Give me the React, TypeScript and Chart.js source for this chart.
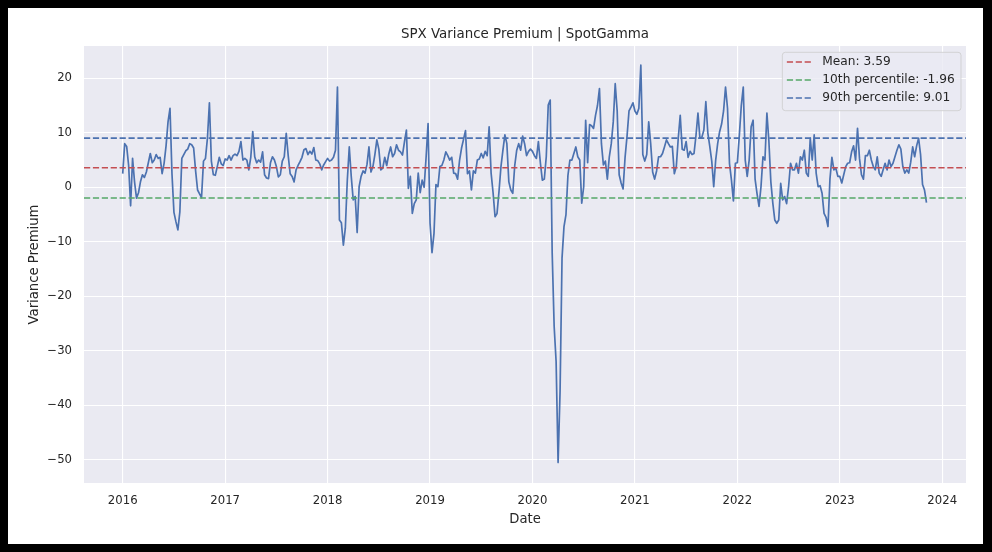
import { useEffect, useRef } from 'react'
import { Chart, LineController, LineElement, PointElement, LinearScale } from 'chart.js'

Chart.register(LineController, LineElement, PointElement, LinearScale)

// weekly readings of the variance premium, one list per calendar year (index = week of year)
const premium2016 = [2.5, 8.0, 7.5, 4.0, -3.4, 5.3, 1.0, -2.0, -1.0, 1.0, 2.3, 1.8, 2.8, 4.5, 6.2, 4.5, 5.0, 6.0, 5.3, 5.5, 2.5, 4.4, 7.6, 12.0, 14.5, 2.5, -4.6, -6.3, -7.8, -4.5, 5.3, 6.0, 6.7, 7.0, 8.0, 7.8, 7.2, 3.0, -0.5, -1.2, -1.9, 4.8, 5.3, 9.0, 15.5, 4.8, 2.3, 2.2, 3.8, 5.5, 4.3, 4.0]
const premium2017 = [5.2, 5.0, 5.8, 5.0, 5.8, 6.1, 5.8, 6.6, 8.4, 5.0, 5.3, 5.0, 3.2, 5.5, 10.2, 5.6, 4.5, 5.0, 4.6, 6.5, 2.3, 1.7, 1.6, 4.5, 5.6, 5.0, 3.8, 1.9, 2.3, 4.8, 5.6, 9.9, 5.8, 2.5, 2.0, 1.0, 3.2, 4.0, 4.7, 5.5, 6.9, 7.1, 6.0, 6.6, 6.1, 7.3, 5.0, 4.9, 4.3, 3.2, 4.1, 4.7]
const premium2018 = [5.3, 4.8, 5.0, 5.5, 6.8, 18.4, -6.0, -6.5, -10.6, -7.5, 1.3, 7.4, 2.0, -2.3, -1.7, -8.3, 0.1, 2.0, 3.0, 2.6, 4.2, 7.4, 2.8, 3.8, 6.0, 8.7, 7.0, 3.2, 3.5, 5.5, 4.0, 6.0, 7.4, 5.6, 6.2, 7.8, 6.8, 6.5, 5.9, 8.3, 10.5, -0.2, 2.0, -4.8, -3.0, -2.3, 2.6, -1.0, 1.3, 0.0, 5.5, 11.7]
const premium2019 = [-6.6, -12.0, -8.5, 0.5, 0.1, 3.8, 4.0, 5.0, 6.5, 5.8, 5.0, 5.5, 2.6, 2.5, 1.5, 5.0, 7.2, 8.8, 10.4, 2.5, 3.0, -0.5, 3.0, 2.6, 5.0, 5.2, 6.2, 5.4, 6.6, 5.8, 11.1, 2.6, -1.0, -5.4, -4.8, -0.8, 3.8, 6.8, 9.6, 8.0, 1.0, -0.5, -1.1, 4.0, 6.8, 8.0, 6.8, 9.4, 8.0, 5.8, 6.6, 7.0]
const premium2020 = [6.6, 5.8, 5.3, 8.4, 4.5, 1.3, 1.5, 5.6, 15.1, 16.0, -12.0, -25.5, -32.0, -50.5, -37.5, -13.0, -7.2, -5.0, 2.2, 5.0, 5.0, 6.2, 7.4, 5.6, 5.0, -2.9, 0.1, 12.3, 4.5, 11.5, 11.3, 10.8, 13.2, 15.0, 18.1, 8.0, 4.1, 4.8, 1.5, 5.6, 8.0, 12.0, 19.0, 14.0, 2.3, 0.8, -0.3, 5.5, 9.4, 14.0, 14.7, 15.5]
const premium2021 = [14.0, 13.4, 14.5, 22.4, 6.0, 4.8, 6.0, 12.0, 8.0, 2.8, 1.5, 3.0, 5.6, 5.6, 6.2, 7.4, 8.7, 8.0, 7.4, 7.5, 2.5, 3.8, 9.0, 13.2, 7.0, 6.8, 8.4, 5.5, 6.6, 6.0, 6.2, 9.5, 13.6, 9.0, 9.2, 10.5, 15.7, 10.0, 7.5, 4.8, 0.1, 5.0, 8.0, 10.2, 11.6, 14.0, 18.4, 14.5, 4.4, 1.3, -2.5, 4.4]
const premium2022 = [4.5, 9.5, 15.0, 18.4, 5.0, 2.0, 5.0, 11.1, 12.3, 1.5, -1.2, -3.5, 0.1, 5.6, 5.0, 13.6, 8.5, 1.0, -2.9, -6.0, -6.6, -6.0, 0.7, -2.3, -1.7, -3.0, 0.1, 4.4, 3.2, 3.2, 4.4, 2.6, 5.6, 5.0, 6.8, 2.6, 2.0, 9.0, 5.0, 9.6, 2.6, 0.1, 0.3, -1.1, -4.8, -5.5, -7.2, 1.5, 5.5, 3.2, 3.5, 2.0]
const premium2023 = [2.0, 0.8, 2.3, 3.8, 4.4, 4.5, 6.5, 7.6, 5.0, 10.8, 5.3, 2.3, 1.5, 5.8, 5.8, 6.8, 5.0, 3.8, 3.2, 5.6, 2.6, 2.0, 3.2, 4.4, 3.2, 5.0, 3.8, 4.4, 5.6, 6.8, 7.8, 7.0, 3.8, 2.6, 3.2, 2.6, 4.6, 7.4, 5.6, 7.6, 9.0, 6.0, 0.5, -0.5, -2.8]

const years = [2016, 2017, 2018, 2019, 2020, 2021, 2022, 2023]
const byYear = [premium2016, premium2017, premium2018, premium2019, premium2020, premium2021, premium2022, premium2023]

const yearTicks = [2016, 2017, 2018, 2019, 2020, 2021, 2022, 2023, 2024]
const valueTicks = [-50, -40, -30, -20, -10, 0, 10, 20]

const meanValue = 3.59
const p10Value = -1.96
const p90Value = 9.01

const xMin = 2015.622
const xMax = 2024.232
const yMin = -54.25
const yMax = 25.92

const INK = '#262626'
const FONT = '"DejaVu Sans", "Liberation Sans", sans-serif'
const DASH = [6.2, 2.7]

const plotBg = {
  id: 'plotBg',
  beforeDraw(chart: Chart) {
    const { ctx, chartArea: a } = chart
    ctx.save()
    ctx.fillStyle = '#EAEAF2'
    ctx.fillRect(a.left, a.top, a.right - a.left, a.bottom - a.top)
    ctx.restore()
  },
}

const labels = {
  id: 'labels',
  afterDraw(chart: Chart) {
    const { ctx, chartArea: a } = chart
    const cx = (a.left + a.right) / 2
    ctx.save()
    ctx.fillStyle = INK
    ctx.textAlign = 'center'
    ctx.textBaseline = 'alphabetic'
    ctx.font = `13.4px ${FONT}`
    ctx.fillText('SPX Variance Premium | SpotGamma', cx, 30.2)

    ctx.font = `13.2px ${FONT}`
    ctx.fillText('Date', cx, 514.5)
    ctx.save()
    ctx.translate(30.3, (a.top + a.bottom) / 2)
    ctx.rotate(-Math.PI / 2)
    ctx.fillText('Variance Premium', 0, 0)
    ctx.restore()

    // legend inside the axes, upper right
    const items = chart.data.datasets.filter((d: any) => d.inLegend)
    ctx.font = `12.2px ${FONT}`
    const maxW = Math.max(...items.map((d: any) => ctx.measureText(d.label).width))
    const boxW = 40 + maxW + 6.3
    const boxH = 58.4
    const right = a.right - 5
    const left = right - boxW
    const top = a.top + 6.3
    ctx.beginPath()
    ctx.roundRect(left, top, boxW, boxH, 3)
    ctx.fillStyle = 'rgba(234,234,242,0.8)'
    ctx.fill()
    ctx.strokeStyle = 'rgba(204,204,204,0.8)'
    ctx.lineWidth = 1
    ctx.stroke()
    items.forEach((d: any, i: number) => {
      const cy = top + 9.7 + i * 18
      ctx.setLineDash(DASH)
      ctx.strokeStyle = d.borderColor
      ctx.lineWidth = 1.67
      ctx.beginPath()
      ctx.moveTo(left + 4.5, cy)
      ctx.lineTo(left + 29.5, cy)
      ctx.stroke()
      ctx.setLineDash([])
      ctx.fillStyle = INK
      ctx.textAlign = 'left'
      ctx.textBaseline = 'middle'
      ctx.fillText(d.label, left + 40, cy)
    })
    ctx.restore()
  },
}

function hline(label: string, value: number, color: string) {
  return {
    label,
    inLegend: true,
    data: [{ x: xMin, y: value }, { x: xMax, y: value }],
    borderColor: color,
    borderWidth: 1.67,
    borderDash: DASH,
    pointRadius: 0,
    fill: false,
  }
}

export default function App() {
  const canvasRef = useRef<HTMLCanvasElement>(null)

  useEffect(() => {
    if (!canvasRef.current) return
    const series = byYear.flatMap((vals, k) => vals.map((y, i) => ({ x: years[k] + i / 52, y })))
    const tickFont = { family: FONT, size: 11.7 }

    const chart = new Chart(canvasRef.current, {
      type: 'line',
      data: {
        datasets: [
          hline(`Mean: ${meanValue}`, meanValue, '#C44E52'),
          hline(`10th percentile: ${p10Value}`, p10Value, '#55A868'),
          hline(`90th percentile: ${p90Value}`, p90Value, '#4C72B0'),
          {
            label: 'Variance Premium',
            data: series,
            borderColor: '#4C72B0',
            borderWidth: 1.7,
            borderJoinStyle: 'round',
            pointRadius: 0,
            tension: 0,
            fill: false,
          },
        ] as any,
      },
      options: {
        responsive: false,
        animation: false,
        events: [],
        layout: { padding: { top: 38, right: 17, left: 0, bottom: 0 } },
        plugins: { legend: { display: false }, title: { display: false }, tooltip: { enabled: false } } as any,
        scales: {
          x: {
            type: 'linear',
            min: xMin,
            max: xMax,
            afterBuildTicks: (s: any) => { s.ticks = yearTicks.map(v => ({ value: v })) },
            afterFit: (s: any) => { s.height = 61 },
            ticks: { autoSkip: false, maxRotation: 0, padding: 10.5, color: INK, font: tickFont, callback: (v: any) => String(v) },
            grid: { color: '#FFFFFF', lineWidth: 1.1, drawTicks: false },
            border: { display: false },
          },
          y: {
            type: 'linear',
            min: yMin,
            max: yMax,
            afterBuildTicks: (s: any) => { s.ticks = valueTicks.map(v => ({ value: v })) },
            afterFit: (s: any) => { s.width = 76 },
            ticks: {
              autoSkip: false,
              padding: 12,
              color: INK,
              font: tickFont,
              callback: (v: any) => (v < 0 ? '\u2212' + Math.abs(v) : String(v)),
            },
            grid: { color: '#FFFFFF', lineWidth: 1.1, drawTicks: false },
            border: { display: false },
          },
        },
      },
      plugins: [plotBg, labels],
    })

    return () => { chart.destroy() }
  }, [])

  return (
    <div style={{ position: 'fixed', left: 0, top: 0, width: 992, height: 552, background: '#000' }}>
      <div style={{ position: 'absolute', left: 8, top: 8, width: 975, height: 536, background: '#fff' }}>
        <canvas ref={canvasRef} width={975} height={536} style={{ display: 'block' }} />
      </div>
    </div>
  )
}
